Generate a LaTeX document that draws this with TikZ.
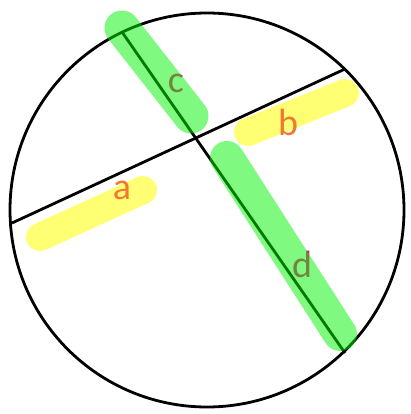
\documentclass[tikz,border=0pt]{standalone}
\usepackage{fontspec}
\setmainfont{Carlito}
\definecolor{hlgreen}{RGB}{0,245,0}
\definecolor{hlyellow}{RGB}{255,255,115}
\definecolor{lborange}{RGB}{240,120,50}
\definecolor{lbmag}{RGB}{230,20,130}
\begin{document}
\begin{tikzpicture}[x=1pt,y=-1pt,
  chord/.style={line width=2.8pt,black},
  yhl/.style={line width=28pt,hlyellow,line cap=round},
  ghl/.style={line width=32pt,hlgreen,opacity=0.5,line cap=round},
  lbl/.style={font=\fontsize{38}{38}\selectfont,inner sep=0pt}]
\useasboundingbox (0,0) rectangle (410,414);
\fill[white] (0,0) rectangle (410,414);
% circle
\coordinate (O) at (207,210);
\draw[chord] (O) circle[radius=197];
% chord endpoints
\coordinate (A1) at (12,223);
\coordinate (A2) at (345,69);
\coordinate (B1) at (122,32);
\coordinate (B2) at (345,353);
\draw[chord] (A1) -- (A2);
\draw[chord] (B1) -- (B2);
% yellow highlights
\coordinate (ya1) at (40,237);
\coordinate (ya2) at (143,190);
\coordinate (yb1) at (248,132);
\coordinate (yb2) at (345,93);
\draw[yhl] (ya1) -- (ya2);
\draw[yhl] (yb1) -- (yb2);
% labels
\node[lbl,text=lborange] (a) at (122,190) {a};
\node[lbl,text=lborange] (b) at (288,122) {b};
\node[lbl,text=lbmag] (c) at (176,83) {c};
\node[lbl,text=lbmag] (d) at (302,264) {d};
% green highlights
\coordinate (gc1) at (122,28);
\coordinate (gc2) at (191,116);
\coordinate (gd1) at (227,158);
\coordinate (gd2) at (340,334);
\draw[ghl,line width=35pt] (gc1) -- (gc2);
\draw[ghl,line width=34pt] (gd1) -- (gd2);
\end{tikzpicture}
\end{document}
